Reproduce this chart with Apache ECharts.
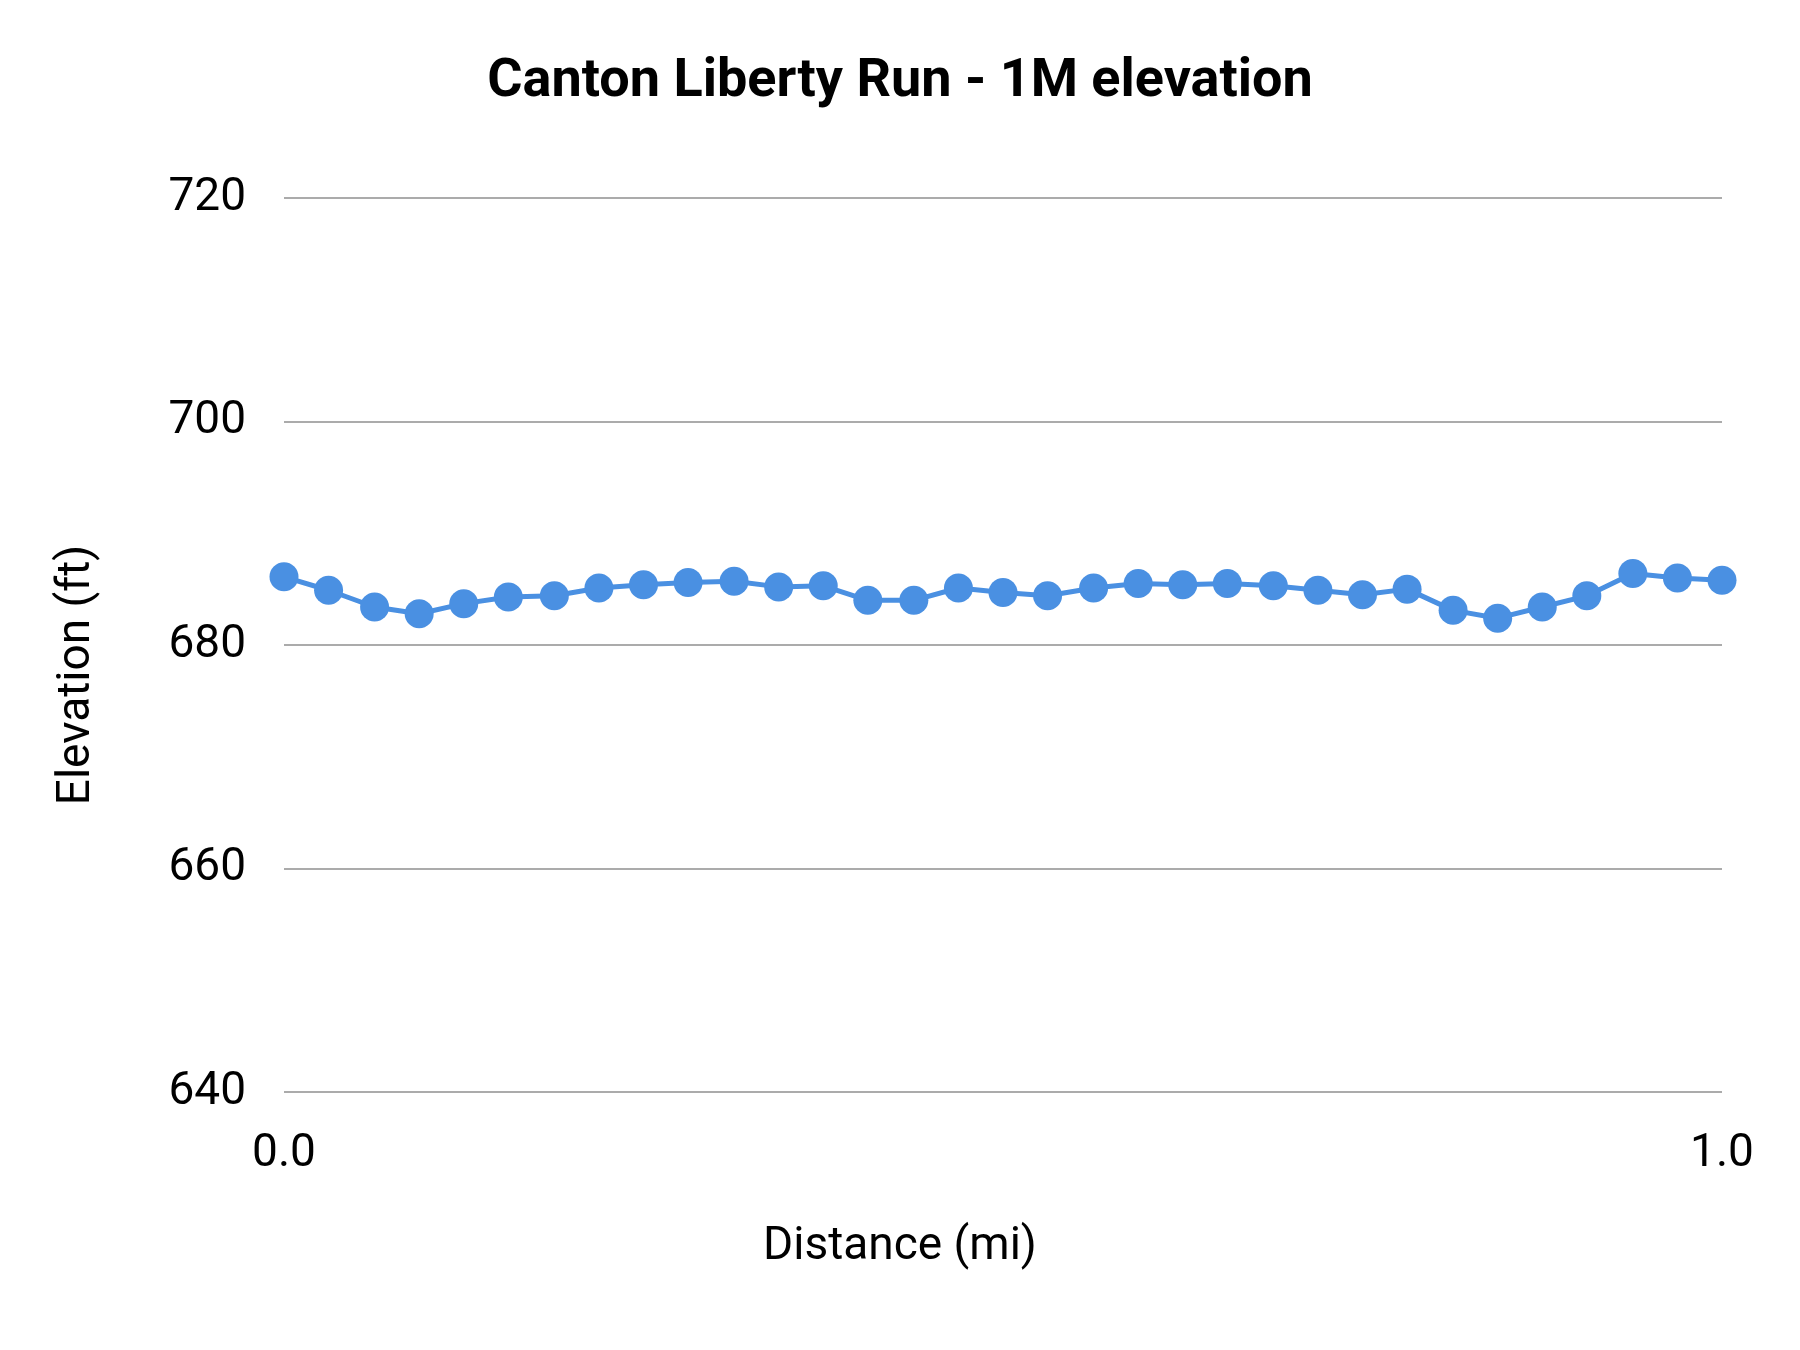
<!DOCTYPE html>
<html>
<head>
<meta charset="utf-8">
<script src="https://cdn.jsdelivr.net/npm/echarts@6/dist/echarts.min.js"></script>
<style>
  html, body { margin: 0; padding: 0; background: #fff; }
  #chart { width: 1800px; height: 1350px; }
</style>
</head>
<body>
<div id="chart"></div>
<script>
// distance along the course (mi)
const distance = [0, 0.031, 0.063, 0.094, 0.125, 0.156, 0.188, 0.219, 0.25, 0.281, 0.313,
  0.344, 0.375, 0.406, 0.438, 0.469, 0.5, 0.531, 0.563, 0.594, 0.625, 0.656, 0.688,
  0.719, 0.75, 0.781, 0.813, 0.844, 0.875, 0.906, 0.938, 0.969, 1.0];
// elevation (ft)
const elevation = [686.1, 684.9, 683.4, 682.8, 683.7, 684.3, 684.4, 685.1, 685.4, 685.6, 685.7,
  685.2, 685.3, 684.0, 684.0, 685.1, 684.7, 684.4, 685.1, 685.5, 685.4, 685.5, 685.3,
  684.9, 684.5, 685.0, 683.1, 682.4, 683.4, 684.4, 686.4, 686.0, 685.8];
const yTicks = [640, 660, 680, 700, 720];
const xTicks = [0, 1];

const font = 'Roboto, "Noto Sans", sans-serif';
const chart = echarts.init(document.getElementById('chart'), null, { renderer: 'canvas' });

chart.setOption({
  animation: false,
  backgroundColor: '#fff',
  title: [
    {
      text: 'Canton Liberty Run - 1M elevation',
      left: 'center',
      top: 50,
      textStyle: { fontFamily: font, fontSize: 54, fontWeight: 'bold', color: '#000' }
    },
    {
      text: 'Distance (mi)',
      left: 'center',
      top: 1219,
      textStyle: { fontFamily: font, fontSize: 46, fontWeight: 'normal', color: '#000' }
    }
  ],
  graphic: [{
    type: 'text',
    x: 77,
    y: 675,
    rotation: Math.PI / 2,
    style: {
      text: 'Elevation (ft)',
      font: '46px ' + font,
      fill: '#000',
      textAlign: 'center',
      textVerticalAlign: 'middle'
    }
  }],
  grid: { left: 284, right: 78, top: 198, bottom: 258 },
  xAxis: {
    type: 'value',
    min: xTicks[0],
    max: xTicks[xTicks.length - 1],
    interval: 1,
    axisLine: { show: false },
    axisTick: { show: false },
    splitLine: { show: false },
    axisLabel: {
      margin: 39,
      fontFamily: font,
      fontSize: 46,
      color: '#000',
      formatter: v => v.toFixed(1)
    }
  },
  yAxis: {
    type: 'value',
    min: yTicks[0],
    max: yTicks[yTicks.length - 1],
    interval: 20,
    axisLine: { show: false },
    axisTick: { show: false },
    splitLine: { lineStyle: { color: '#ababab', width: 2 } },
    axisLabel: { margin: 38, fontFamily: font, fontSize: 46, color: '#000', padding: [4, 0, 0, 0] }
  },
  series: [{
    type: 'line',
    data: distance.map((d, i) => [d, elevation[i]]),
    symbol: 'circle',
    symbolSize: 29,
    itemStyle: { color: '#4a90e2' },
    lineStyle: { color: '#4a90e2', width: 5 }
  }]
});
</script>
</body>
</html>
